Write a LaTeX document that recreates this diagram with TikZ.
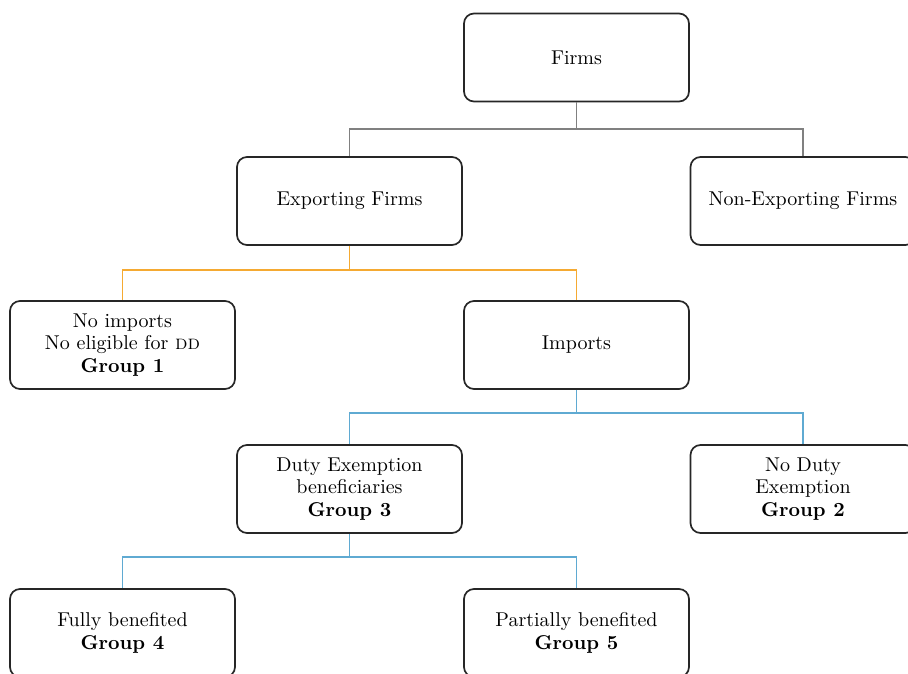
\documentclass[tikz,border=0pt]{standalone}
\usetikzlibrary{positioning}
\definecolor{grayline}{RGB}{128,128,128}
\definecolor{orangeline}{RGB}{245,170,50}
\definecolor{blueline}{RGB}{95,170,210}
\begin{document}
\begin{tikzpicture}[x=0.5pt,y=-0.5pt,
  box/.style={draw=black!85, line width=0.85pt, rounded corners=5pt, minimum width=112.5pt, minimum height=44pt, align=center, inner sep=2pt, font=\fontsize{10}{11.2}\selectfont},
  conn/.style={line width=0.7pt}]
\useasboundingbox (0,0) rectangle (908,673);
\clip (0,0) rectangle (908,673);
\node[box] (firms) at (576.5,57.5) {Firms};
\node[box] (exp) at (349.5,201) {Exporting Firms};
\node[box] (nonexp) at (803,201) {Non-Exporting Firms};
\node[box] (noimp) at (122.5,345) {No imports\\No eligible for \textsc{dd}\\\textbf{Group 1}};
\node[box] (imp) at (576.5,345) {Imports};
\node[box] (duty) at (349.5,489) {Duty Exemption\\beneficiaries\\\textbf{Group 3}};
\node[box] (noduty) at (803,489) {No Duty\\Exemption\\\textbf{Group 2}};
\node[box] (fully) at (122.5,633) {Fully benefited\\\textbf{Group 4}};
\node[box] (partial) at (576.5,633) {Partially benefited\\\textbf{Group 5}};
\coordinate (j1) at (576.5,129);
\coordinate (j2) at (349.5,270);
\coordinate (j3) at (576.5,413);
\coordinate (j4) at (349.5,557);
\draw[conn,grayline] (firms.south) -- (j1);
\draw[conn,grayline] (j1) -| (exp.north);
\draw[conn,grayline] (j1) -| (nonexp.north);
\draw[conn,orangeline] (exp.south) -- (j2);
\draw[conn,orangeline] (j2) -| (noimp.north);
\draw[conn,orangeline] (j2) -| (imp.north);
\draw[conn,blueline] (imp.south) -- (j3);
\draw[conn,blueline] (j3) -| (duty.north);
\draw[conn,blueline] (j3) -| (noduty.north);
\draw[conn,blueline] (duty.south) -- (j4);
\draw[conn,blueline] (j4) -| (fully.north);
\draw[conn,blueline] (j4) -| (partial.north);
\end{tikzpicture}
\end{document}
